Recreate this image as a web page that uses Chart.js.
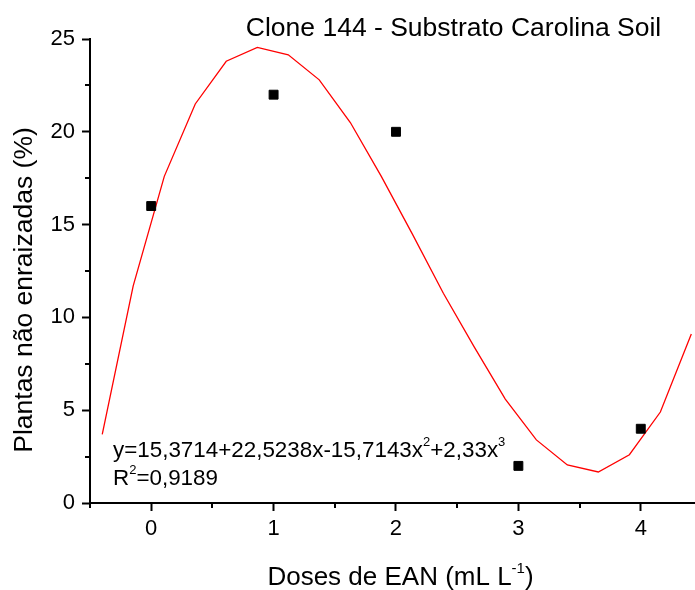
<!DOCTYPE html>
<html>
<head>
<meta charset="utf-8">
<script src="https://cdn.jsdelivr.net/npm/chart.js@4/dist/chart.umd.min.js"></script>
<style>
  body { margin: 0; background: #fff; }
  #wrap { width: 695px; height: 590px; }
</style>
</head>
<body>
<div id="wrap"><canvas id="chart" width="695" height="590"></canvas></div>
<script>
// observed values
const doses = [0, 1, 2, 3, 4];
const rooted = [16, 22, 20, 2, 4];

// fitted curve, vertices
const fitX = [-0.4, -0.147, 0.107, 0.36, 0.613, 0.867, 1.12, 1.373, 1.627, 1.88,
              2.133, 2.387, 2.64, 2.893, 3.147, 3.4, 3.653, 3.907, 4.16, 4.413];
const fitY = [3.7, 11.7, 17.6, 21.5, 23.8, 24.55, 24.15, 22.8, 20.5, 17.6,
              14.5, 11.3, 8.4, 5.6, 3.4, 2.05, 1.67, 2.6, 4.9, 9.1];

const xTicks = [0, 1, 2, 3, 4];
const xMinor = [-0.5, 0.5, 1.5, 2.5, 3.5];
const yTicks = [0, 5, 10, 15, 20, 25];
const yMinor = [2.5, 7.5, 12.5, 17.5, 22.5];

const FONT = "'Liberation Sans', Arial, sans-serif";

// text pieces, [text, isSuperscript]
const titleText = [["Clone 144 - Substrato Carolina Soil", false]];
const xTitle = [["Doses de EAN (mL L", false], ["-1", true], [")", false]];
const yTitle = "Plantas não enraizadas (%)";
const eqLine = [["y=15,3714+22,5238x-15,7143x", false], ["2", true], ["+2,33x", false], ["3", true]];
const r2Line = [["R", false], ["2", true], ["=0,9189", false]];

function richWidth(ctx, parts, size) {
    let w = 0;
    parts.forEach(([t, sup]) => {
        ctx.font = (sup ? Math.round(size * 0.58) : size) + "px " + FONT;
        w += ctx.measureText(t).width;
    });
    return w;
}

function drawRich(ctx, parts, x, y, size) {
    let cx = x;
    parts.forEach(([t, sup]) => {
        ctx.font = (sup ? Math.round(size * 0.58) : size) + "px " + FONT;
        ctx.fillText(t, cx, sup ? y - size * 0.47 : y);
        cx += ctx.measureText(t).width;
    });
}

const textPlugin = {
    id: "texts",
    afterDraw(chart) {
        const ctx = chart.ctx;
        const xs = chart.scales.x, ys = chart.scales.y;
        ctx.save();
        ctx.fillStyle = "#000";
        ctx.textBaseline = "alphabetic";
        ctx.textAlign = "left";

        // minor ticks
        ctx.strokeStyle = "#000";
        ctx.lineWidth = 2;
        ctx.beginPath();
        xMinor.forEach(v => {
            const px = Math.round(xs.getPixelForValue(v));
            ctx.moveTo(px, xs.top);
            ctx.lineTo(px, xs.top + 5);
        });
        yMinor.forEach(v => {
            const py = Math.round(ys.getPixelForValue(v));
            ctx.moveTo(ys.right - 5, py);
            ctx.lineTo(ys.right, py);
        });
        ctx.stroke();

        // title
        const tw = richWidth(ctx, titleText, 26.5);
        drawRich(ctx, titleText, 453.5 - tw / 2, 36, 26.5);

        // x axis title
        const xw = richWidth(ctx, xTitle, 26);
        drawRich(ctx, xTitle, 400.5 - xw / 2, 585, 26);

        // y axis title
        ctx.save();
        ctx.translate(32, 290);
        ctx.rotate(-Math.PI / 2);
        ctx.font = "26.5px " + FONT;
        ctx.textAlign = "center";
        ctx.fillText(yTitle, 0, 0);
        ctx.restore();

        // equation
        drawRich(ctx, eqLine, 113, 457, 22.4);
        drawRich(ctx, r2Line, 113, 485, 22.4);
        ctx.restore();
    }
};

new Chart(document.getElementById("chart"), {
    type: "scatter",
    data: {
        datasets: [
            {
                label: "Observado",
                data: doses.map((d, i) => ({ x: d, y: rooted[i] })),
                pointStyle: "rect",
                pointRadius: 6.3,
                pointBackgroundColor: "#000",
                pointBorderColor: "#000",
                pointBorderWidth: 1,
                order: 0
            },
            {
                label: "Ajuste",
                data: fitX.map((x, i) => ({ x: x, y: fitY[i] })),
                showLine: true,
                borderColor: "#ff0000",
                borderWidth: 1.3,
                pointRadius: 0,
                tension: 0,
                order: 1
            }
        ]
    },
    options: {
        responsive: false,
        animation: false,
        layout: { autoPadding: false, padding: { top: 39, right: 0, left: 0, bottom: 0 } },
        plugins: {
            legend: { display: false },
            tooltip: { enabled: false },
            title: { display: false }
        },
        scales: {
            x: {
                type: "linear",
                min: -0.5,
                max: 4.443,
                afterBuildTicks: (scale) => { scale.ticks = xTicks.map(v => ({ value: v })); },
                afterFit: (scale) => {
                    scale.height = 87;
                    scale.paddingLeft = 0;
                    scale.paddingRight = 0;
                },
                ticks: {
                    color: "#000",
                    font: { family: FONT, size: 22 },
                    padding: 5,
                    maxRotation: 0
                },
                grid: { drawOnChartArea: false, color: "#000", tickLength: 8, tickWidth: 2 },
                border: { color: "#000", width: 2 }
            },
            y: {
                min: 0,
                max: 25,
                afterBuildTicks: (scale) => { scale.ticks = yTicks.map(v => ({ value: v })); },
                afterFit: (scale) => {
                    scale.width = 90;
                    scale.paddingTop = 0;
                    scale.paddingBottom = 0;
                },
                ticks: {
                    color: "#000",
                    font: { family: FONT, size: 22 },
                    padding: 7
                },
                grid: { drawOnChartArea: false, color: "#000", tickLength: 8, tickWidth: 2 },
                border: { color: "#000", width: 2 }
            }
        }
    },
    plugins: [textPlugin]
});
</script>
</body>
</html>
